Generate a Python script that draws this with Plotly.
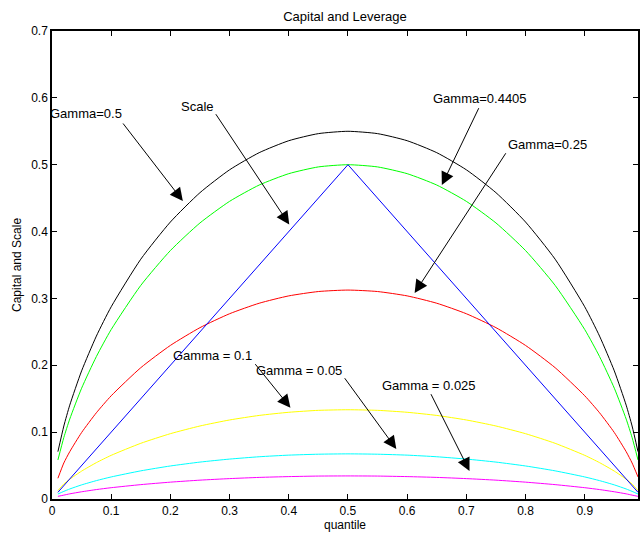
import plotly.graph_objects as go

# quantile grid
quantile = [0.01, 0.02, 0.03, 0.05, 0.075, 0.10, 0.15, 0.20, 0.25, 0.30, 0.35, 0.40, 0.45, 0.50,
            0.55, 0.60, 0.65, 0.70, 0.75, 0.80, 0.85, 0.90, 0.925, 0.95, 0.97, 0.98, 0.99]

gamma_0500 = [0.0708, 0.1092, 0.1404, 0.1916, 0.2437, 0.2875, 0.3587, 0.4143, 0.4582, 0.4924, 0.5180, 0.5359, 0.5465, 0.5500,
              0.5465, 0.5359, 0.5180, 0.4924, 0.4582, 0.4143, 0.3587, 0.2875, 0.2437, 0.1916, 0.1404, 0.1092, 0.0708]
gamma_04405 = [0.0584, 0.0920, 0.1196, 0.1657, 0.2131, 0.2535, 0.3195, 0.3716, 0.4129, 0.4452, 0.4696, 0.4866, 0.4967, 0.5000,
               0.4967, 0.4866, 0.4696, 0.4452, 0.4129, 0.3716, 0.3195, 0.2535, 0.2131, 0.1657, 0.1196, 0.0920, 0.0584]
gamma_0250 = [0.0310, 0.0539, 0.0708, 0.0994, 0.1290, 0.1544, 0.1964, 0.2297, 0.2563, 0.2771, 0.2928, 0.3038, 0.3103, 0.3125,
              0.3103, 0.3038, 0.2928, 0.2771, 0.2563, 0.2297, 0.1964, 0.1544, 0.1290, 0.0994, 0.0708, 0.0539, 0.0330]
gamma_0100 = [0.0125, 0.0225, 0.0296, 0.0417, 0.0544, 0.0653, 0.0833, 0.0977, 0.1092, 0.1182, 0.1250, 0.1297, 0.1326, 0.1335,
              0.1326, 0.1297, 0.1250, 0.1182, 0.1092, 0.0977, 0.0833, 0.0653, 0.0544, 0.0417, 0.0296, 0.0225, 0.0125]
gamma_0050 = [0.0075, 0.0114, 0.0150, 0.0211, 0.0275, 0.0330, 0.0421, 0.0494, 0.0552, 0.0597, 0.0632, 0.0656, 0.0670, 0.0675,
              0.0670, 0.0656, 0.0632, 0.0597, 0.0552, 0.0494, 0.0421, 0.0330, 0.0275, 0.0211, 0.0150, 0.0114, 0.0075]
gamma_0025 = [0.0040, 0.0058, 0.0077, 0.0108, 0.0141, 0.0169, 0.0215, 0.0252, 0.0282, 0.0305, 0.0323, 0.0335, 0.0343, 0.0345,
              0.0343, 0.0335, 0.0323, 0.0305, 0.0282, 0.0252, 0.0215, 0.0169, 0.0141, 0.0108, 0.0077, 0.0058, 0.0040]

scale_q = [0.01, 0.50, 0.99]
scale_v = [0.01, 0.50, 0.01]

x_ticks = [0, 0.1, 0.2, 0.3, 0.4, 0.5, 0.6, 0.7, 0.8, 0.9]
x_tick_labels = ["0", "0.1", "0.2", "0.3", "0.4", "0.5", "0.6", "0.7", "0.8", "0.9"]
y_ticks = [0, 0.1, 0.2, 0.3, 0.4, 0.5, 0.6, 0.7]
y_tick_labels = ["0", "0.1", "0.2", "0.3", "0.4", "0.5", "0.6", "0.7"]

series = [
    (gamma_0500, "black", "Gamma=0.5"),
    (gamma_04405, "#00ff00", "Gamma=0.4405"),
    (gamma_0250, "#ff0000", "Gamma=0.25"),
    (gamma_0100, "#ffff00", "Gamma = 0.1"),
    (gamma_0050, "#00ffff", "Gamma = 0.05"),
    (gamma_0025, "#ff00ff", "Gamma = 0.025"),
]

FONT = "Liberation Sans, Arial, Helvetica, sans-serif"

fig = go.Figure()
for vals, col, name in series:
    fig.add_trace(go.Scatter(x=quantile, y=vals, mode="lines", name=name,
                             line=dict(color=col, width=1, shape="spline", smoothing=0.6)))
fig.add_trace(go.Scatter(x=scale_q, y=scale_v, mode="lines", name="Scale",
                         line=dict(color="#0000ff", width=1)))

# annotations: (label, text center, arrow tail, arrow head)
labels = [
    ("Gamma=0.5", (0.0579, 0.5763), (0.1181, 0.5639), (0.2211, 0.4457)),
    ("Scale", (0.2464, 0.5878), (0.2751, 0.5778), (0.4008, 0.4106)),
    ("Gamma=0.4405", (0.7239, 0.5983), (0.7222, 0.5868), (0.6586, 0.4696)),
    ("Gamma=0.25", (0.8370, 0.5295), (0.7683, 0.5194), (0.6126, 0.3081)),
    ("Gamma = 0.1", (0.2717, 0.2139), (0.3414, 0.2039), (0.4028, 0.1366)),
    ("Gamma = 0.05", (0.4180, 0.1929), (0.4927, 0.1829), (0.5817, 0.0748)),
    ("Gamma = 0.025", (0.6374, 0.1695), (0.6390, 0.1590), (0.7054, 0.0419)),
]
for text, (tx, ty), (ax_, ay_), (hx, hy) in labels:
    fig.add_annotation(x=hx, y=hy, ax=ax_, ay=ay_, axref="x", ayref="y", xref="x", yref="y",
                       text="", showarrow=True, arrowhead=2, arrowsize=2.6, arrowwidth=1,
                       arrowcolor="black", standoff=0, startstandoff=0)
    fig.add_annotation(x=tx, y=ty, xref="x", yref="y", text=text, showarrow=False,
                       font=dict(family=FONT, size=13, color="black"),
                       xanchor="center", yanchor="middle")

# axis titles placed like the original figure
fig.add_annotation(x=0.5, y=-26 / 468, xref="paper", yref="paper", text="quantile",
                   showarrow=False, xanchor="center", yanchor="middle",
                   font=dict(family=FONT, size=12, color="black"))
fig.add_annotation(x=-35 / 586, y=0.5, xref="paper", yref="paper", text="Capital and Scale",
                   showarrow=False, textangle=-90, xanchor="center", yanchor="middle",
                   font=dict(family=FONT, size=12, color="black"))

fig.update_layout(
    width=640, height=536,
    margin=dict(l=52, r=2, t=31, b=37),
    paper_bgcolor="white", plot_bgcolor="white",
    showlegend=False,
    font=dict(family=FONT, size=12, color="black"),
    title=dict(text="Capital and Leverage", x=0.539, xanchor="center",
               y=1 - 16 / 536, yanchor="middle", yref="container",
               font=dict(family=FONT, size=13, color="black")),
    xaxis=dict(range=[0, 0.99], tickmode="array", tickvals=x_ticks, ticktext=x_tick_labels,
               ticks="inside", ticklen=5, tickcolor="black", showline=True, linecolor="black",
               linewidth=1.5, mirror="ticks", showgrid=False, zeroline=False, automargin=False),
    yaxis=dict(range=[0, 0.7], tickmode="array", tickvals=y_ticks, ticktext=y_tick_labels,
               ticks="inside", ticklen=5, tickcolor="black", showline=True, linecolor="black",
               linewidth=1.5, mirror="ticks", showgrid=False, zeroline=False, automargin=False),
)

fig.write_html("out.html", config={"responsive": False, "displayModeBar": False},
               post_script="document.body.style.margin='0';document.body.style.padding='0';"
                           "document.documentElement.style.overflow='hidden';")
